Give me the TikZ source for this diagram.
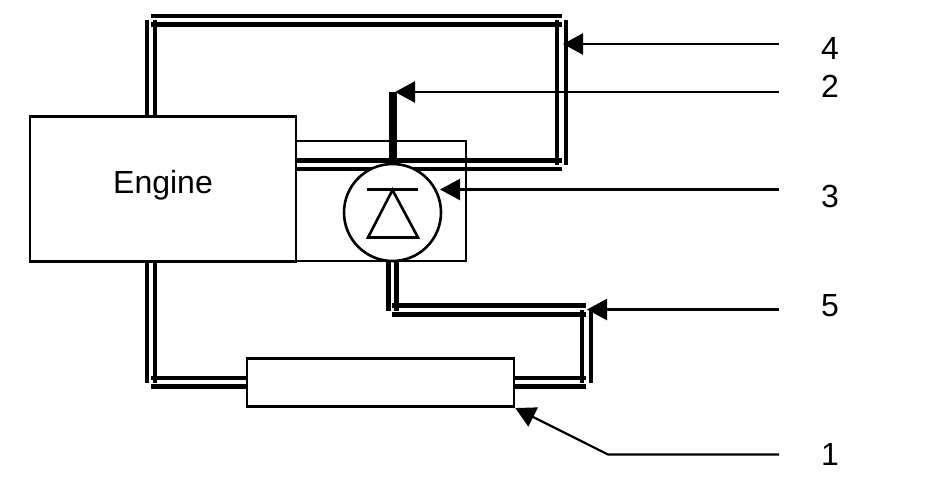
\documentclass[tikz,border=0pt]{standalone}
\usepackage{fontspec}
\setmainfont{Liberation Sans}
\usetikzlibrary{arrows.meta}
\tikzset{
    unitbox/.style={draw, line width=2.6pt, fill=white, inner sep=0pt},
    pipeline/.style={line width=4.5pt},
    leaderline/.style={line width=2.2pt, -{Triangle[length=20pt, width=21pt]}},
    numlabel/.style={font=\fontsize{32}{36}\selectfont}
}

\begin{document}
\begin{tikzpicture}[x=1pt, y=-1pt]
    \useasboundingbox (0, 0) rectangle (928, 482);

    % pipes, upper loop
    \draw[pipeline] (147, 20) -- (147, 116);
    \draw[pipeline] (155, 20) -- (155, 116);
    \draw[pipeline] (151, 16) -- (562, 16);
    \draw[pipeline] (151, 24.5) -- (562, 24.5);
    \draw[pipeline] (557, 20) -- (557, 165);
    \draw[pipeline] (566, 20) -- (566, 165);
    \draw[pipeline] (296, 160.5) -- (562, 160.5);
    \draw[pipeline] (296, 169) -- (562, 169);

    % pipes, lower loop
    \draw[pipeline] (147, 261) -- (147, 383);
    \draw[pipeline] (155, 261) -- (155, 383);
    \draw[pipeline] (151, 378) -- (247, 378);
    \draw[pipeline] (151, 386.5) -- (247, 386.5);
    \draw[pipeline] (514, 378) -- (586, 378);
    \draw[pipeline] (514, 386.5) -- (586, 386.5);
    \draw[pipeline] (582, 310) -- (582, 383);
    \draw[pipeline] (591, 310) -- (591, 383);
    \draw[pipeline] (392, 305.5) -- (586, 305.5);
    \draw[pipeline] (392, 314.5) -- (586, 314.5);
    \draw[pipeline] (388.5, 261) -- (388.5, 311);
    \draw[pipeline] (396.5, 261) -- (396.5, 311);

    % engine and units
    \node[unitbox, minimum width=266pt, minimum height=145pt, text height=23pt, text depth=12.8pt, font=\fontsize{32}{36}\selectfont] (engine) at (163, 188.8) {Engine};
    \draw[line width=2.6pt] (296, 141) -- (466, 141) -- (466, 261) -- (296, 261);
    \node[unitbox, minimum width=267pt, minimum height=48.5pt] (cooler) at (380.5, 382.5) {};

    % vent stub and pump
    \draw[line width=8pt] (392.5, 92) -- (392.5, 164);
    \node[draw, circle, line width=2.6pt, fill=white, minimum size=97pt, inner sep=0pt] (pump) at (392.5, 212.5) {};
    \draw[line width=2.6pt] (367, 189.5) -- (418, 189.5);
    \draw[line width=2.6pt] (392.5, 190) -- (418, 237.5) -- (368, 237.5) -- cycle;

    % numbers
    \node[numlabel] (num4) at (830, 48) {4};
    \node[numlabel] (num2) at (830, 86) {2};
    \node[numlabel] (num3) at (830, 196) {3};
    \node[numlabel] (num5) at (830, 306) {5};
    \node[numlabel] (num1) at (830, 454) {1};

    % leader ends
    \coordinate (lead4) at (779, 44);
    \coordinate (lead2) at (779, 92);
    \coordinate (lead3) at (779, 189.5);
    \coordinate (lead5) at (779, 309.5);
    \coordinate (lead1) at (779, 454.5);
    \coordinate (tip4) at (563, 44);
    \coordinate (tip2) at (395, 92);
    \coordinate (tip3) at (440, 189.5);
    \coordinate (tip5) at (587, 309.5);

    \draw[leaderline] (lead4) -- (tip4);
    \draw[leaderline] (lead2) -- (tip2);
    \draw[leaderline] (lead3) -- (tip3);
    \draw[leaderline] (lead5) -- (tip5);
    \draw[leaderline] (lead1) -- (608, 454.5) -- (cooler.south east);
\end{tikzpicture}
\end{document}
